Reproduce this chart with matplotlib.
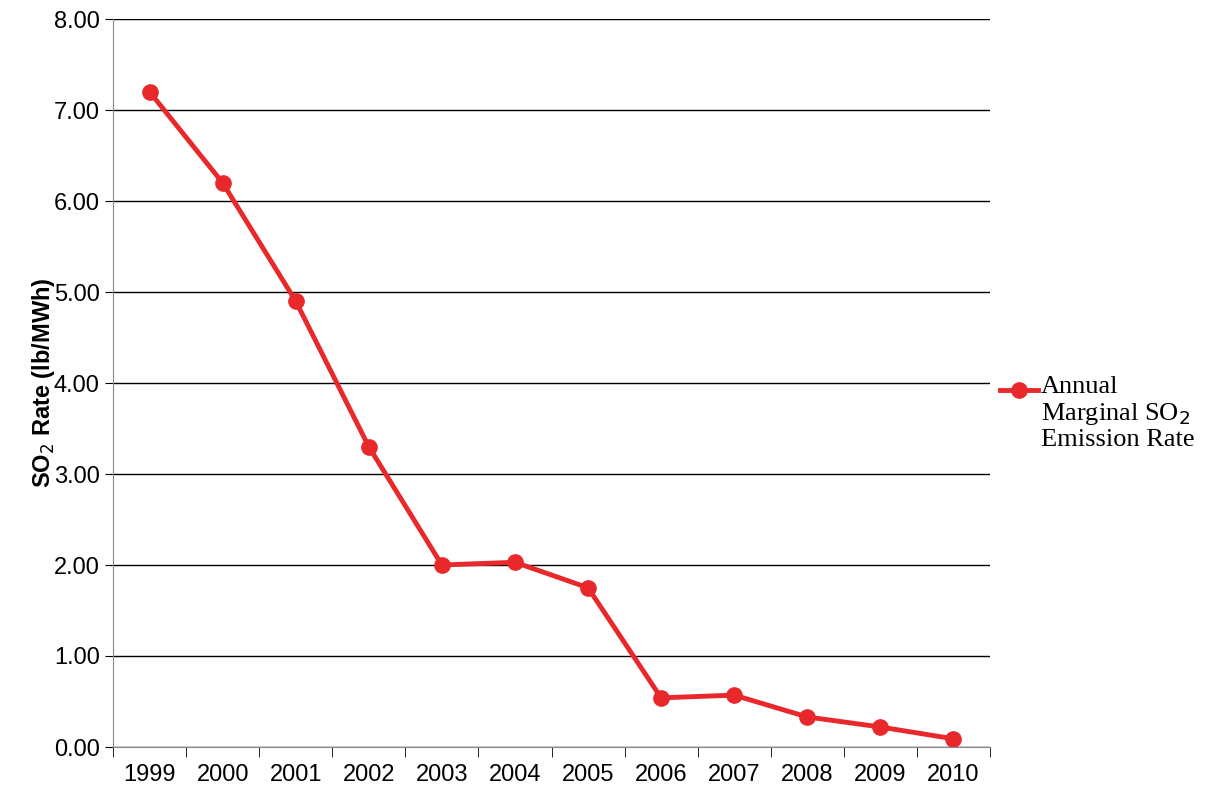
import matplotlib
matplotlib.use("Agg")
import matplotlib.pyplot as plt
from matplotlib.lines import Line2D
import numpy as np

years = ["1999", "2000", "2001", "2002", "2003", "2004", "2005",
         "2006", "2007", "2008", "2009", "2010"]
so2_rate = [7.20, 6.20, 4.90, 3.30, 2.00, 2.03, 1.75, 0.54, 0.57, 0.33, 0.22, 0.09]

W, H = 1223, 794
RED = "#e8282b"
fig = plt.figure(figsize=(W / 100, H / 100), dpi=100)
ax = fig.add_axes((113 / W, 47 / H, 877 / W, 728 / H))

x = np.arange(len(years))
ax.plot(x, so2_rate, "-o", color=RED, lw=3.5, ms=11)

ax.set_xlim(-0.5, len(years) - 0.5)
ax.set_ylim(0, 8)
ax.set_yticks(np.arange(0, 8.01, 1.0))
ax.set_yticklabels([f"{v:.2f}" for v in np.arange(0, 8.01, 1.0)],
                   fontsize=17, family="Liberation Sans")
ax.set_xticks(x)
ax.set_xticklabels(years, fontsize=17, family="Liberation Sans")
ax.set_xticks(np.arange(-0.5, len(years), 1.0), minor=True)
ax.tick_params(axis="x", which="major", length=0, pad=12)
ax.tick_params(axis="x", which="minor", length=7, direction="out")
ax.tick_params(axis="y", length=6, direction="out")
ax.grid(axis="y", color="black", lw=1)
ax.set_axisbelow(True)
for s in ("top", "right"):
    ax.spines[s].set_visible(False)
ax.spines["left"].set_color("#888888")
ax.spines["bottom"].set_color("#888888")

ax.set_ylabel("SO$_2$ Rate (lb/MWh)", fontsize=17, fontweight="bold",
              family="Liberation Sans", labelpad=-2)

# legend drawn by hand: key beside the first line of a three-line label
ly = 1 - 390 / H
fig.add_artist(Line2D([1000 / W, 1038 / W], [ly, ly], transform=fig.transFigure,
                      color=RED, lw=3.5))
fig.add_artist(Line2D([1019 / W], [ly], transform=fig.transFigure,
                      color=RED, marker="o", ms=11))
fig.text(1041 / W, 1 - 376 / H, "Annual\nMarginal SO$_2$\nEmission Rate",
         ha="left", va="top", family="Liberation Serif", fontsize=19,
         linespacing=1.15)

fig.savefig("out.png", dpi=100)
